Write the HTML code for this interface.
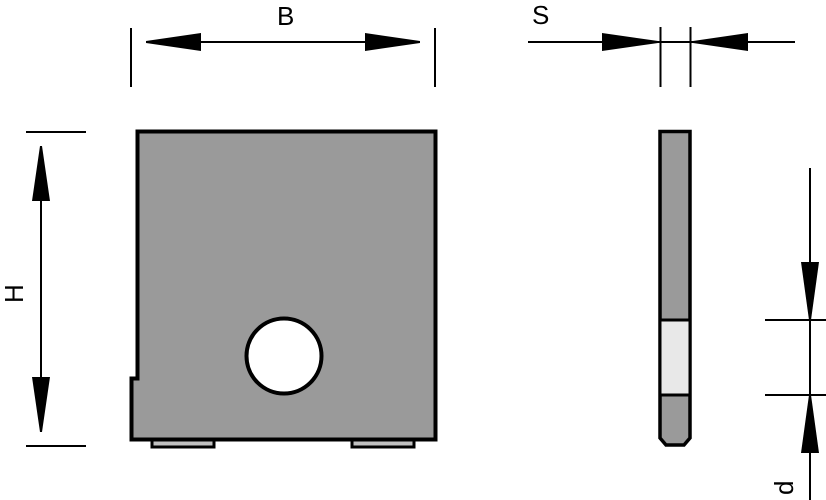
<!DOCTYPE html>
<html><head><style>html,body{margin:0;padding:0;background:#fff;}svg{display:block}</style></head>
<body>
<svg width="826" height="500" viewBox="0 0 826 500" xmlns="http://www.w3.org/2000/svg">
<g stroke="#000" stroke-width="2" fill="none">
<!-- B -->
<line x1="131" y1="28" x2="131" y2="87"/>
<line x1="435" y1="28" x2="435" y2="87"/>
<line x1="150" y1="42" x2="418" y2="42"/>
<!-- H -->
<line x1="26" y1="132" x2="86" y2="132"/>
<line x1="26" y1="446" x2="86" y2="446"/>
<line x1="41" y1="150" x2="41" y2="430"/>
<!-- S -->
<line x1="528" y1="42" x2="795" y2="42"/>
<line x1="660.5" y1="27" x2="660.5" y2="87"/>
<line x1="690.5" y1="27" x2="690.5" y2="87"/>
<!-- d -->
<line x1="810" y1="168" x2="810" y2="500"/>
<line x1="765" y1="320" x2="826" y2="320"/>
<line x1="765" y1="395" x2="826" y2="395"/>
</g>
<g fill="#000">
<polygon points="146,41 146,43 201,51 201,33"/>
<polygon points="420,41 420,43 365,51 365,33"/>
<polygon points="40,146 42,146 50,201 32,201"/>
<polygon points="40,432 42,432 50,377 32,377"/>
<polygon points="658,41 658,43 602,51 602,33"/>
<polygon points="693,41 693,43 748,51 748,33"/>
<polygon points="809,320 811,320 819,262 801,262"/>
<polygon points="809,395 811,395 819,453 801,453"/>
</g>
<!-- plate -->
<rect x="152" y="438" width="62" height="9" fill="#c0c0c0" stroke="#000" stroke-width="3"/>
<rect x="352" y="438" width="62" height="9" fill="#c0c0c0" stroke="#000" stroke-width="3"/>
<polygon points="137.5,131.5 435.5,131.5 435.5,439.5 131.5,439.5 131.5,378.5 137.5,378.5" fill="#9a9a9a" stroke="#000" stroke-width="4"/>
<circle cx="284" cy="356" r="37.5" fill="#fff" stroke="#000" stroke-width="4"/>
<!-- side view -->
<polygon points="660,131.5 690,131.5 690,438 684,445 666,445 660,438" fill="#9a9a9a" stroke="#000" stroke-width="3.5"/>
<rect x="661.5" y="320" width="27" height="75" fill="#e8e8e8"/>
<line x1="660" y1="320" x2="690" y2="320" stroke="#000" stroke-width="3"/>
<line x1="660" y1="395" x2="690" y2="395" stroke="#000" stroke-width="3"/>
<g font-family="Liberation Sans, sans-serif" font-size="26" fill="#000">
<text x="277" y="25">B</text>
<text x="532" y="24">S</text>
<text transform="translate(23,303) rotate(-90)">H</text>
<text transform="translate(793,495) rotate(-90)">d</text>
</g>
</svg>
</body></html>
